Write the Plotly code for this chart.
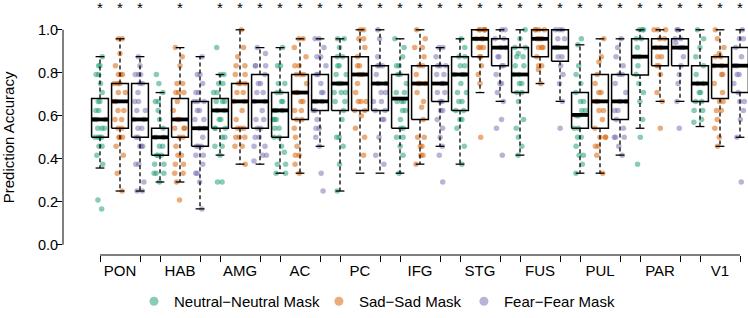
import plotly.graph_objects as go

# ---------------- data ----------------
regions = ["PON", "HAB", "AMG", "AC", "PC", "IFG", "STG", "FUS", "PUL", "PAR", "V1"]
conditions = ["Neutral\u2212Neutral Mask", "Sad\u2212Sad Mask", "Fear\u2212Fear Mask"]

neutral_points = [
    [.875, .833, .833, .792, .792, .75, .708, .667, .667, .625, .625, .583, .583, .583, .542, .542, .542, .5, .5, .5, .5, .458, .458, .417, .375, .208, .167],
    [.792, .75, .708, .667, .667, .625, .583, .542, .5, .5, .458, .458, .417, .417, .417, .375, .375, .333, .333, .333, .292],
    [.917, .792, .792, .75, .75, .708, .708, .667, .667, .667, .625, .625, .583, .583, .542, .542, .542, .5, .5, .458, .458, .417, .292, .292],
    [.917, .833, .833, .75, .75, .708, .708, .667, .667, .625, .625, .625, .583, .583, .583, .542, .542, .5, .5, .458, .43, .375, .375, .333, .333],
    [.958, .958, .917, .875, .875, .833, .833, .792, .792, .75, .75, .708, .708, .708, .667, .667, .625, .583, .5, .5, .458, .375, .25],
    [.958, .917, .875, .833, .833, .792, .792, .75, .708, .708, .667, .667, .667, .625, .625, .583, .542, .542, .5, .5, .458, .417, .333],
    [.958, .917, .875, .875, .833, .833, .792, .792, .792, .75, .708, .708, .667, .667, .625, .625, .583, .583, .542, .458, .375],
    [1.0, .958, .917, .917, .89, .875, .875, .833, .833, .792, .792, .75, .75, .708, .708, .667, .583, .542, .5, .458, .417],
    [.958, .93, .833, .792, .75, .708, .667, .667, .625, .625, .6, .6, .542, .542, .5, .5, .458, .417, .417, .375, .333],
    [1.0, 1.0, 1.0, .958, .958, .917, .875, .875, .833, .792, .75, .708, .667, .583, .5, .375],
    [1.0, .958, .917, .875, .833, .792, .75, .75, .708, .708, .667, .667, .625, .625, .583, .57],
]
sad_points = [
    [.958, .958, .89, .833, .792, .792, .792, .75, .75, .75, .708, .708, .667, .667, .625, .625, .583, .583, .542, .542, .5, .5, .5, .458, .417, .333, .25],
    [.917, .875, .833, .75, .75, .708, .708, .708, .667, .625, .583, .583, .542, .542, .542, .5, .5, .458, .417, .417, .375, .375, .333, .333, .292, .208],
    [1.0, .917, .875, .833, .833, .792, .792, .75, .75, .75, .708, .708, .667, .667, .625, .583, .542, .542, .542, .5, .5, .5, .458, .458, .375],
    [.958, .958, .917, .875, .833, .833, .792, .792, .792, .75, .708, .708, .667, .667, .625, .625, .583, .583, .542, .5, .458, .417, .417, .375, .333],
    [1.0, 1.0, .958, .958, .917, .875, .833, .833, .792, .792, .75, .708, .667, .667, .667, .625, .625, .6, .542, .5, .417],
    [1.0, .958, .917, .917, .875, .833, .833, .792, .75, .75, .75, .708, .667, .64, .583, .5, .5, .458, .458, .417, .417, .375],
    [1.0, 1.0, 1.0, 1.0, 1.0, .958, .958, .958, .917, .917, .917, .875, .875, .833, .792, .75, .5],
    [1.0, 1.0, 1.0, 1.0, .958, .958, .958, .917, .917, .917, .875, .833, .833, .815, .75],
    [.958, .875, .85, .792, .75, .708, .708, .667, .667, .625, .625, .583, .542, .5, .5, .5, .458, .458, .417, .333],
    [1.0, 1.0, 1.0, .958, .958, .917, .917, .875, .875, .833, .833, .792, .708, .667, .542],
    [1.0, .958, .917, .89, .875, .875, .833, .833, .792, .792, .75, .708, .667, .667, .625, .625, .583, .542, .5, .458],
]
fear_points = [
    [.875, .833, .792, .792, .792, .75, .75, .708, .667, .667, .625, .625, .583, .583, .542, .542, .5, .5, .458, .458, .458, .375, .375, .292, .25, .25],
    [.875, .792, .792, .75, .708, .708, .667, .667, .667, .625, .625, .583, .583, .542, .542, .5, .458, .458, .458, .417, .417, .375, .333, .333, .292, .167],
    [.917, .89, .833, .833, .833, .792, .75, .75, .708, .708, .667, .667, .625, .583, .583, .542, .542, .5, .5, .458, .458, .417, .417, .39],
    [.958, .958, .917, .875, .875, .833, .792, .792, .75, .708, .708, .667, .667, .667, .625, .625, .583, .542, .542, .5, .458, .333, .25],
    [1.0, .958, .875, .833, .833, .833, .792, .75, .75, .708, .708, .667, .667, .625, .625, .583, .583, .5, .417, .375],
    [.917, .917, .875, .833, .833, .833, .792, .792, .75, .75, .708, .708, .667, .667, .625, .625, .583, .542, .5, .458, .417, .292],
    [1.0, 1.0, .958, .958, .917, .917, .875, .875, .833, .833, .792, .75, .75, .708, .667, .583, .542, .417],
    [1.0, 1.0, 1.0, .958, .958, .917, .917, .875, .875, .833, .792, .75, .667, .542],
    [.958, .917, .875, .833, .792, .792, .75, .708, .667, .667, .625, .625, .583, .542, .5, .5, .5, .458, .417],
    [1.0, 1.0, .958, .958, .94, .917, .917, .875, .833, .792, .75, .667, .542],
    [1.0, .958, .958, .917, .875, .833, .833, .792, .792, .75, .708, .667, .667, .625, .583, .5, .292],
]

# box statistics (lower whisker, lower hinge, median, upper hinge, upper whisker)
neutral_lo = [.357, .292, .417, .333, .25, .333, .375, .417, .333, .542, .55]
neutral_q1 = [.5, .417, .542, .5, .625, .542, .625, .708, .542, .79, .667]
neutral_med = [.583, .5, .625, .625, .75, .68, .792, .792, .604, .875, .75]
neutral_q3 = [.68, .542, .68, .708, .875, .792, .875, .917, .708, .958, .833]
neutral_hi = [.875, .708, .792, .917, .958, .958, .958, 1.0, .93, 1.0, 1.0]

sad_lo = [.25, .292, .375, .333, .333, .375, .708, .75, .333, .667, .458]
sad_q1 = [.542, .5, .542, .583, .625, .583, .875, .875, .542, .833, .68]
sad_med = [.667, .583, .667, .708, .792, .75, .958, .958, .667, .917, .833]
sad_q3 = [.75, .68, .75, .792, .875, .833, 1.0, 1.0, .792, .958, .875]
sad_hi = [.958, .917, 1.0, .958, 1.0, 1.0, 1.0, 1.0, .958, 1.0, 1.0]

fear_lo = [.25, .167, .375, .458, .333, .458, .667, .667, .417, .667, .5]
fear_q1 = [.5, .458, .542, .625, .625, .667, .833, .854, .583, .833, .708]
fear_med = [.583, .542, .667, .667, .75, .75, .917, .917, .667, .917, .833]
fear_q3 = [.75, .667, .792, .792, .833, .833, .958, 1.0, .792, .958, .917]
fear_hi = [.875, .875, .917, .958, 1.0, .917, 1.0, 1.0, .958, 1.0, 1.0]

neutral_sig = [1, 0, 1, 1, 1, 1, 1, 1, 1, 1, 1]
sad_sig = [1, 1, 1, 1, 1, 1, 1, 1, 1, 1, 1]
fear_sig = [1, 0, 1, 1, 1, 1, 1, 1, 1, 1, 1]

y_ticks = [0.0, 0.2, 0.4, 0.6, 0.8, 1.0]

# ---------------- styling ----------------
colors = ["rgba(27,158,119,0.52)", "rgba(217,95,2,0.52)", "rgba(117,112,179,0.52)"]
FONT = "Liberation Sans, Arial, Helvetica, sans-serif"
HALF = 0.42   # half box width (data units)
CAP = 0.22    # half staple width
legend_x = [0.1036, 0.3736, 0.5853]

points_all = [neutral_points, sad_points, fear_points]
stats_all = [
    (neutral_lo, neutral_q1, neutral_med, neutral_q3, neutral_hi),
    (sad_lo, sad_q1, sad_med, sad_q3, sad_hi),
    (fear_lo, fear_q1, fear_med, fear_q3, fear_hi),
]
sig_all = [neutral_sig, sad_sig, fear_sig]
n_cond = len(conditions)


def pos(g, c):
    return n_cond * g + c + 1


box_x, box_y, wh_x, wh_y, cap_x, cap_y, med_x, med_y = [], [], [], [], [], [], [], []
for c in range(n_cond):
    lo, q1, med, q3, hi = stats_all[c]
    for g in range(len(regions)):
        p = pos(g, c)
        box_x += [p - HALF, p + HALF, p + HALF, p - HALF, p - HALF, None]
        box_y += [q1[g], q1[g], q3[g], q3[g], q1[g], None]
        wh_x += [p, p, None, p, p, None]
        wh_y += [q3[g], hi[g], None, q1[g], lo[g], None]
        cap_x += [p - CAP, p + CAP, None, p - CAP, p + CAP, None]
        cap_y += [hi[g], hi[g], None, lo[g], lo[g], None]
        med_x += [p - HALF, p + HALF, None]
        med_y += [med[g], med[g], None]

fig = go.Figure()
fig.add_trace(go.Scatter(x=wh_x, y=wh_y, mode="lines", line=dict(color="black", width=1.3, dash="4px,3px"),
                         showlegend=False, hoverinfo="skip"))
fig.add_trace(go.Scatter(x=cap_x, y=cap_y, mode="lines", line=dict(color="black", width=1.3),
                         showlegend=False, hoverinfo="skip"))
fig.add_trace(go.Scatter(x=box_x, y=box_y, mode="lines", line=dict(color="black", width=1.5),
                         showlegend=False, hoverinfo="skip"))
fig.add_trace(go.Scatter(x=med_x, y=med_y, mode="lines", line=dict(color="black", width=3.8),
                         showlegend=False, hoverinfo="skip"))

# jittered points (plotly's own box-point jitter, box itself invisible)
for c in range(n_cond):
    xs, ys = [], []
    for g, vals in enumerate(points_all[c]):
        xs += [pos(g, c)] * len(vals)
        ys += vals
    fig.add_trace(go.Box(x=xs, y=ys, boxpoints="all", jitter=0.8, pointpos=0, width=0.85,
                         line=dict(color="rgba(0,0,0,0)", width=0), fillcolor="rgba(0,0,0,0)",
                         marker=dict(color=colors[c], size=5.5), whiskerwidth=0,
                         showlegend=False, name=conditions[c], hoveron="points"))

# significance asterisks
ast_x, ast_y = [], []
for c in range(n_cond):
    for g in range(len(regions)):
        if sig_all[c][g]:
            ast_x.append(pos(g, c))
            ast_y.append(1.095)
fig.add_trace(go.Scatter(x=ast_x, y=ast_y, mode="text", text=["*"] * len(ast_x),
                         textfont=dict(size=15, color="black", family=FONT), cliponaxis=False,
                         xaxis="x2", showlegend=False, hoverinfo="skip"))

# legend entries (one legend per entry so each can be placed like the original)
legend_names = ["legend", "legend2", "legend3"]
for c in range(n_cond):
    fig.add_trace(go.Scatter(x=[None], y=[None], mode="markers", name=conditions[c],
                             marker=dict(color=colors[c], size=9), legend=legend_names[c]))

edge_ticks = []
mid_ticks = []
for g in range(len(regions)):
    edge_ticks += [pos(g, 0), pos(g, n_cond - 1)]
    mid_ticks.append(pos(g, 1))

x_range = [-0.85, 33.4]
y_range = [-0.0475, 1.1385]

legend_common = dict(orientation="h", xanchor="left", y=-0.183, yanchor="middle",
                     font=dict(size=15), itemwidth=30, bgcolor="rgba(0,0,0,0)")

fig.update_layout(
    width=748, height=318,
    margin=dict(l=63, r=0, t=0, b=61),
    plot_bgcolor="white", paper_bgcolor="white",
    boxmode="overlay",
    font=dict(family=FONT, size=15, color="black"),
    xaxis=dict(range=x_range, tickvals=edge_ticks, showticklabels=False, ticks="outside", ticklen=6,
               tickwidth=1, tickcolor="black", showgrid=False, zeroline=False, showline=False),
    xaxis2=dict(range=x_range, overlaying="x", anchor="y", side="bottom", tickvals=mid_ticks,
                ticktext=regions, ticks="outside", ticklen=2, tickcolor="rgba(0,0,0,0)",
                showgrid=False, zeroline=False, showline=False, tickfont=dict(size=15)),
    yaxis=dict(range=y_range, tickvals=y_ticks, tickformat=".1f", ticks="outside", ticklen=6,
               tickwidth=1, tickcolor="black", showgrid=False, zeroline=False, showline=False,
               tickfont=dict(size=14.5), ticklabelstandoff=-5),
    legend=dict(x=legend_x[0], **legend_common),
    legend2=dict(x=legend_x[1], **legend_common),
    legend3=dict(x=legend_x[2], **legend_common),
    shapes=[
        dict(type="line", xref="paper", yref="y", x0=0, x1=0, y0=y_ticks[0], y1=y_ticks[-1],
             line=dict(color="black", width=1)),
        dict(type="line", xref="x", yref="paper", x0=edge_ticks[0], x1=edge_ticks[-1], y0=0, y1=0,
             line=dict(color="black", width=1)),
    ],
    annotations=[
        dict(text="Prediction Accuracy", textangle=-90, xref="paper", x=0, xshift=-55, xanchor="center",
             yref="y", y=0.5, yanchor="middle", showarrow=False, font=dict(size=15)),
    ],
)

fig.write_html("out.html", config={"displayModeBar": False},
               post_script="document.body.style.margin='0px';")
